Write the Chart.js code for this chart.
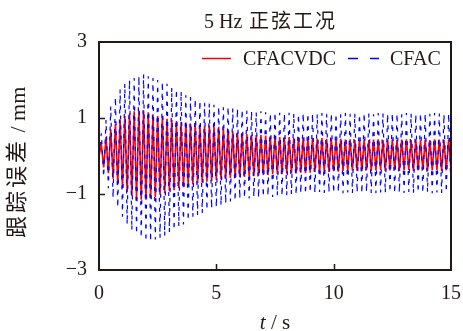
<!DOCTYPE html>
<html>
<head>
<meta charset="utf-8">
<script src="https://cdn.jsdelivr.net/npm/chart.js@4"></script>
<style>html,body{margin:0;padding:0;background:#fff}canvas{display:block}</style>
</head>
<body>
<canvas id="c" width="463" height="331"></canvas>
<script>
// peak values, one every 0.1 s (half a 5 Hz period), row = 1 s
const sampleStep=0.1;
const seriesNames=['CFACVDC','CFAC'];
const cfacvdcPeaks=[
  0,0.3,-0.3,0.5,-0.45,0.7,-0.6,0.85,-0.75,0.95,
  -0.85,1.05,-0.95,1.12,-1.05,1.18,-1.12,1.2,-1.15,1.2,
  -1.15,1.15,-1.12,1.1,-1.08,1.05,-1.02,1.02,-0.98,0.98,
  -0.92,0.95,-0.9,0.92,-0.85,0.9,-0.82,0.88,-0.78,0.85,
  -0.75,0.85,-0.72,0.82,-0.7,0.8,-0.68,0.8,-0.66,0.78,
  -0.63,0.77,-0.62,0.72,-0.6,0.7,-0.58,0.65,-0.58,0.62,
  -0.56,0.6,-0.55,0.58,-0.55,0.56,-0.53,0.55,-0.52,0.55,
  -0.5,0.54,-0.5,0.52,-0.48,0.53,-0.47,0.5,-0.48,0.5,
  -0.46,0.5,-0.45,0.48,-0.46,0.5,-0.44,0.48,-0.45,0.47,
  -0.44,0.48,-0.42,0.46,-0.43,0.47,-0.41,0.45,-0.42,0.46,
  -0.4,0.44,-0.41,0.45,-0.39,0.43,-0.4,0.44,-0.38,0.42,
  -0.39,0.43,-0.4,0.44,-0.37,0.42,-0.39,0.43,-0.38,0.44,
  -0.37,0.42,-0.39,0.43,-0.38,0.44,-0.37,0.42,-0.39,0.43,
  -0.38,0.44,-0.37,0.42,-0.39,0.43,-0.38,0.41,-0.37,0.43,
  -0.39,0.42,-0.38,0.44,-0.37,0.43,-0.39,0.42,-0.38,0.44,
  -0.38
];
const cfacPeaks=[
  0,0.6,-0.55,0.95,-0.85,1.3,-1.1,1.55,-1.35,1.75,
  -1.6,1.9,-1.8,2.0,-1.95,2.05,-2.05,2.1,-2.15,2.15,
  -2.25,2.1,-2.25,2.05,-2.2,2.0,-2.15,1.95,-2.1,1.9,
  -2.0,1.8,-1.95,1.75,-1.85,1.7,-1.8,1.6,-1.7,1.55,
  -1.6,1.5,-1.55,1.45,-1.5,1.4,-1.42,1.38,-1.38,1.35,
  -1.35,1.3,-1.3,1.28,-1.25,1.3,-1.2,1.25,-1.18,1.25,
  -1.12,1.22,-1.1,1.2,-1.12,1.18,-1.08,1.15,-1.1,1.18,
  -1.07,1.15,-1.05,1.12,-1.08,1.15,-1.04,1.14,-1.05,1.12,
  -1.03,1.14,-1.0,1.12,-1.02,1.1,-0.98,1.13,-1.0,1.12,
  -0.96,1.12,-0.98,1.1,-0.95,1.13,-0.97,1.11,-0.96,1.12,
  -0.97,1.12,-0.95,1.1,-0.98,1.13,-0.96,1.11,-0.97,1.12,
  -0.96,1.1,-0.98,1.13,-0.95,1.12,-0.97,1.1,-0.98,1.13,
  -0.96,1.12,-0.97,1.11,-0.95,1.13,-0.98,1.12,-0.96,1.1,
  -0.97,1.13,-0.95,1.12,-0.98,1.1,-0.96,1.13,-0.97,1.12,
  -0.95,1.11,-0.98,1.13,-0.96,1.12,-0.97,1.1,-0.95,1.12,
  -0.97
];
const xTicks=[0,5,10,15];
const yTicks=[-3,-1,1,3];

const INK='#231815';
const SERIF='"Liberation Serif","Noto Sans CJK SC",serif';
const toPts=arr=>arr.map((v,i)=>({x:+(i*sampleStep).toFixed(1),y:v}));

// frame, inward ticks, titles and legend
const decor={id:'decor',afterDraw(chart){
  const ctx=chart.ctx,a=chart.chartArea,sx=chart.scales.x,sy=chart.scales.y;
  ctx.save();
  ctx.strokeStyle=INK;ctx.lineWidth=2;
  ctx.strokeRect(a.left,a.top,a.right-a.left,a.bottom-a.top);
  ctx.lineWidth=1.5;ctx.beginPath();
  xTicks.slice(1,-1).forEach(t=>{const px=Math.round(sx.getPixelForValue(t))+0.5;ctx.moveTo(px,a.bottom);ctx.lineTo(px,a.bottom-6)});
  yTicks.slice(1,-1).forEach(t=>{const py=Math.round(sy.getPixelForValue(t))+0.5;ctx.moveTo(a.left,py);ctx.lineTo(a.left+6,py)});
  ctx.stroke();
  ctx.fillStyle=INK;ctx.textBaseline='alphabetic';ctx.textAlign='left';
  // title
  ctx.font='20px '+SERIF;
  ctx.fillText('5 Hz',204,28);
  ctx.letterSpacing='2px';ctx.fillText('正弦工况',249,28);
  ctx.letterSpacing='0px';
  // x title
  ctx.font='italic 21px '+SERIF;const w1=ctx.measureText('t').width;
  ctx.font='21px '+SERIF;const w2=ctx.measureText(' / s').width;
  let x0=(a.left+a.right)/2-(w1+w2)/2;
  ctx.font='italic 21px '+SERIF;ctx.fillText('t',x0,329);
  ctx.font='21px '+SERIF;ctx.fillText(' / s',x0+w1,329);
  // y title, rotated
  ctx.save();ctx.translate(18,0);ctx.rotate(-Math.PI/2);
  ctx.textBaseline='middle';ctx.font='22px '+SERIF;
  ctx.letterSpacing='3px';ctx.fillText('跟踪误差',-238,0);
  const wc=ctx.measureText('跟踪误差').width;
  ctx.letterSpacing='0px';ctx.fillText(' / mm',-238+wc,1);
  ctx.restore();
  // legend
  ctx.font='20px '+SERIF;
  ctx.lineWidth=1.5;ctx.strokeStyle='#ff0000';ctx.beginPath();ctx.moveTo(202,58.5);ctx.lineTo(231,58.5);ctx.stroke();
  ctx.fillText(seriesNames[0],243,65);
  ctx.strokeStyle='#0000ff';ctx.setLineDash([10,12]);ctx.beginPath();ctx.moveTo(348,58.5);ctx.lineTo(379,58.5);ctx.stroke();
  ctx.setLineDash([]);
  ctx.fillText(seriesNames[1],390,65);
  ctx.restore();
}};

new Chart(document.getElementById('c'),{
  type:'line',
  data:{datasets:[
    {label:seriesNames[0],data:toPts(cfacvdcPeaks),borderColor:'#ff0000',borderWidth:1.6,pointRadius:0,tension:0,order:1},
    {label:seriesNames[1],data:toPts(cfacPeaks),borderColor:'#0000ff',borderWidth:1.2,borderDash:[4,6],pointRadius:0,tension:0,order:0}
  ]},
  options:{
    responsive:false,animation:false,devicePixelRatio:1,
    layout:{padding:{top:42,right:12,left:0,bottom:0}},
    plugins:{legend:{display:false},tooltip:{enabled:false}},
    scales:{
      x:{type:'linear',min:0,max:15,
        afterBuildTicks:s=>{s.ticks=xTicks.map(v=>({value:v}))},
        afterFit:s=>{s.height=61;s.paddingLeft=0;s.paddingRight=0},
        grid:{display:false,drawTicks:false},border:{display:false},
        ticks:{padding:12,color:INK,font:{family:SERIF,size:20},maxRotation:0}},
      y:{min:-3,max:3,
        afterBuildTicks:s=>{s.ticks=yTicks.map(v=>({value:v}))},
        afterFit:s=>{s.width=99;s.paddingTop=0;s.paddingBottom=0},
        grid:{display:false,drawTicks:false},border:{display:false},
        ticks:{padding:12,color:INK,font:{family:SERIF,size:20},callback:v=>v<0?'\u2212'+Math.abs(v):String(v)}}
    }
  },
  plugins:[decor]
});
</script>
</body>
</html>
